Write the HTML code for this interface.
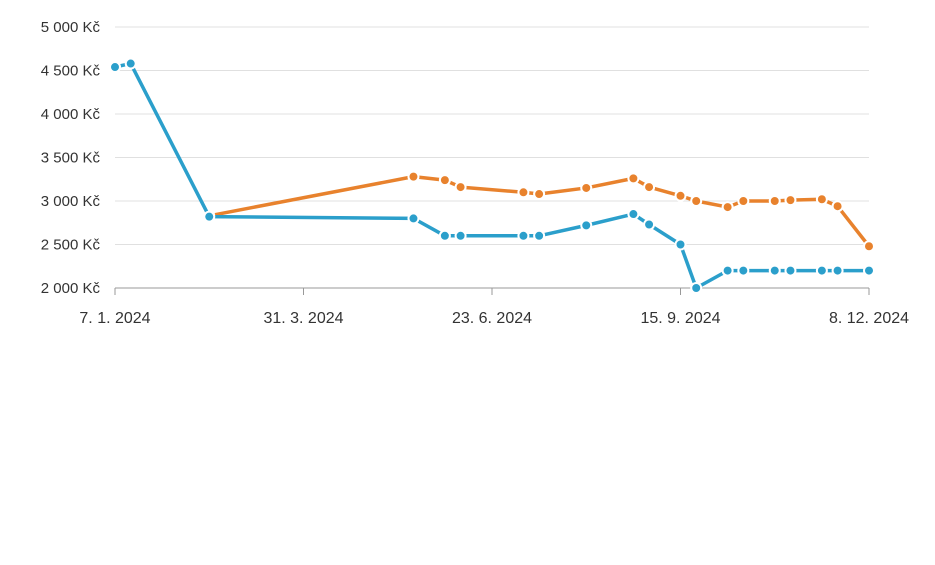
<!DOCTYPE html>
<html><head><meta charset="utf-8"><style>
body{margin:0;background:#fff;width:935px;height:560px;overflow:hidden;font-family:"Liberation Sans",Arial,sans-serif}
</style></head><body>
<svg id="chart" width="935" height="560" xmlns="http://www.w3.org/2000/svg"></svg>
<script>
const yTicks=[2000,2500,3000,3500,4000,4500,5000];
const yTickLabels=["2 000 Kč","2 500 Kč","3 000 Kč","3 500 Kč","4 000 Kč","4 500 Kč","5 000 Kč"];
const xTicks=[0,84,168,252,336];
const xTickLabels=["7. 1. 2024","31. 3. 2024","23. 6. 2024","15. 9. 2024","8. 12. 2024"];
const blueDays=[0,7,42,133,147,154,182,189,210,231,238,252,259,273,280,294,301,315,322,336];
const blueValues=[4540,4580,2820,2800,2600,2600,2600,2600,2720,2850,2730,2500,2000,2200,2200,2200,2200,2200,2200,2200];
const orangeDays=[42,133,147,154,182,189,210,231,238,252,259,273,280,294,301,315,322,336];
const orangeValues=[2830,3280,3240,3160,3100,3080,3150,3260,3160,3060,3000,2930,3000,3000,3010,3020,2940,2480];

const svg=document.getElementById('chart');
const NS='http://www.w3.org/2000/svg';
const x0=115,x1=869,y0=288,y1=27;
function xs(d){return x0+(d-0)/(336-0)*(x1-x0);}
function ys(v){return y0-(v-2000)/(5000-2000)*(y0-y1);}
function mk(t,a){const e=document.createElementNS(NS,t);for(const k in a)e.setAttribute(k,a[k]);svg.appendChild(e);return e;}

yTicks.forEach((v,i)=>{
  const g=mk('line',{x1:x0,x2:x1,y1:ys(v),y2:ys(v),stroke:i===0?'#999':'#e0e0e0','stroke-width':1});
  
  
  const t=mk('text',{x:100,y:ys(v)+5,'text-anchor':'end','font-size':15,fill:'#333'});
  t.textContent=yTickLabels[i];
  
  
});
xTicks.forEach((d,i)=>{
  const l=mk('line',{x1:xs(d),x2:xs(d),y1:y0,y2:y0+7,stroke:'#999','stroke-width':1});
  
  
  const t=mk('text',{x:xs(d),y:323,'text-anchor':'middle','font-size':16,fill:'#333'});
  t.textContent=xTickLabels[i];
  
  
});
function series(days,vals,color,name){
  const p=mk('polyline',{points:days.map((d,i)=>xs(d)+','+ys(vals[i])).join(' '),fill:'none',stroke:color,'stroke-width':3.5,'stroke-linejoin':'round'});
  
  
  days.forEach((d,i)=>{
    const c=mk('circle',{cx:xs(d),cy:ys(vals[i]),r:5,fill:color,stroke:'#fff','stroke-width':2});
    
    
  });
}
series(orangeDays,orangeValues,'#e8822d','orange-series');
series(blueDays,blueValues,'#2b9fcb','blue-series');
</script>
</body></html>
